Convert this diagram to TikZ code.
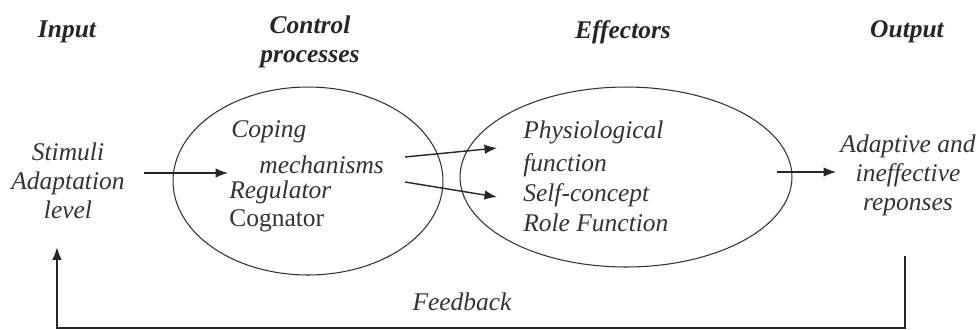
\documentclass[tikz,border=0pt]{standalone}
\usepackage{fontspec}
\setmainfont{Liberation Serif}
\usetikzlibrary{shapes.geometric, arrows.meta, positioning}

\begin{document}
\begin{tikzpicture}[x=0.02cm, y=-0.02cm,
    txt/.style={font=\fontsize{14.5}{16.5}\selectfont\itshape, text=black!80, inner sep=0pt},
    head/.style={font=\fontsize{14.5}{16.5}\selectfont\bfseries\itshape, text=black!85, align=center},
    blob/.style={draw=black!80, ellipse, line width=0.6pt},
    arr/.style={-{Latex[length=2.5mm,width=1.9mm]}, line width=0.8pt, draw=black!85}]
    \useasboundingbox (0,0) rectangle (979,329);

    \node[head] (input) at (67,32) {Input};
    \node[head] (ctrlhead) at (310,42) {Control\\processes};
    \node[head] (effhead) at (623,32) {Effectors};
    \node[head] (outhead) at (907,32) {Output};

    \node[blob, minimum width=5.4cm, minimum height=3.76cm] (ctrl) at (308,181) {};
    \node[blob, minimum width=6.64cm, minimum height=3.6cm] (eff) at (626,177) {};

    \node[txt, align=center] (stim) at (68,181) {Stimuli\\Adaptation\\level};

    \node[txt, anchor=west] (coping) at (231,132) {Coping};
    \node[txt, anchor=west] (mech) at (259,165) {mechanisms};
    \node[txt, anchor=west] (reg) at (229,192) {Regulator};
    \node[txt, anchor=west, font=\fontsize{14.5}{16.5}\selectfont\upshape] (cog) at (229,221) {Cognator};

    \node[txt, anchor=west] (phys) at (523,132) {Physiological};
    \node[txt, anchor=west] (func) at (523,165) {function};
    \node[txt, anchor=west] (self) at (523,195) {Self-concept};
    \node[txt, anchor=west] (role) at (523,223) {Role Function};

    \node[txt, align=center] (out) at (908,175) {Adaptive and\\ineffective\\reponses};
    \node[txt] (fb) at (462,302) {Feedback};

    \draw[arr] ([shift={(19,-8)}]stim.east) -- ([shift={(-1,-19)}]reg.west);
    \draw[arr] ([shift={(97,-24)}]ctrl.center) -- ([shift={(-129,-29)}]eff.center);
    \draw[arr] ([shift={(97,1)}]ctrl.center) -- ([shift={(-129,20)}]eff.center);
    \draw[arr] ([shift={(151,-5)}]eff.center) -- ([shift={(-4,-3)}]out.west);
    \draw[arr] ([shift={(-3,40)}]out.south) -- ++(0,72) -| ([shift={(-11,28)}]stim.south);
\end{tikzpicture}
\end{document}
